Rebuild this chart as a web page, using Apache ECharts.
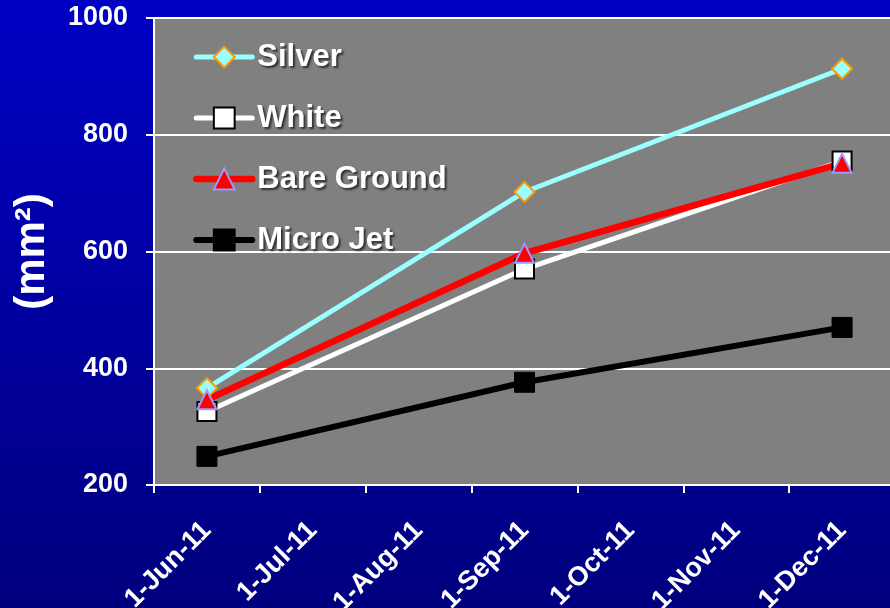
<!DOCTYPE html>
<html>
<head>
<meta charset="utf-8">
<script src="https://cdn.jsdelivr.net/npm/echarts@6/dist/echarts.min.js"></script>
<style>
  html, body { margin: 0; padding: 0; background: #000080; }
  #chart { width: 890px; height: 608px; }
</style>
</head>
<body>
<div id="chart"></div>
<script>
// Monthly axis: one category per month, measurements taken in Jun, Sep and Dec
const months = ['1-Jun-11', '1-Jul-11', '1-Aug-11', '1-Sep-11', '1-Oct-11', '1-Nov-11', '1-Dec-11'];

// Area values (mm²) per month; null where no measurement was taken
const silver     = [366, null, null, 702, null, null, 913];
const white      = [326, null, null, 570, null, null, 755];
const bareGround = [346, null, null, 597, null, null, 751];
const microJet   = [249, null, null, 376, null, null, 470];

const yTicks = { min: 200, max: 1000, step: 200 };

const fontFamily = '"Liberation Sans", Arial, sans-serif';

function lineSeries(name, data, color, width, symbol, size, fill, stroke, strokeWidth) {
  return {
    name: name,
    type: 'line',
    data: data,
    connectNulls: true,
    symbol: symbol,
    symbolSize: size,
    lineStyle: { color: color, width: width, cap: 'round' },
    itemStyle: { color: fill, borderColor: stroke, borderWidth: strokeWidth },
    emphasis: { disabled: true },
    animation: false
  };
}

const chart = echarts.init(document.getElementById('chart'));
chart.setOption({
  animation: false,
  backgroundColor: {
    type: 'linear', x: 0, y: 0, x2: 0, y2: 1,
    colorStops: [
      { offset: 0, color: '#0000C4' },
      { offset: 1, color: '#00007E' }
    ]
  },
  grid: {
    left: 154, top: 18, width: 741, height: 467,
    outerBoundsMode: 'none',
    containLabel: false,
    show: true, backgroundColor: '#808080', borderWidth: 0
  },
  legend: {
    orient: 'vertical',
    left: 193, top: 40,
    padding: 0,
    itemWidth: 56, itemHeight: 26,
    itemGap: 27,
    lineStyle: { width: 'inherit', cap: 'round' },
    textStyle: {
      color: '#ffffff', fontFamily: fontFamily, fontWeight: 'bold', fontSize: 31,
      lineHeight: 34,
      textShadowColor: 'rgba(40,40,40,0.9)', textShadowBlur: 2,
      textShadowOffsetX: 2, textShadowOffsetY: 2
    },
    data: ['Silver', 'White', 'Bare Ground', 'Micro Jet']
  },
  xAxis: {
    type: 'category',
    data: months,
    boundaryGap: true,
    axisLine: { show: true, lineStyle: { color: '#ffffff', width: 2 } },
    axisTick: { show: true, length: 8, alignWithLabel: false, interval: 0, lineStyle: { color: '#ffffff', width: 2 } },
    axisLabel: {
      interval: 0, rotate: 45, margin: 41,
      color: '#ffffff', fontFamily: fontFamily, fontWeight: 'bold', fontSize: 27
    },
    splitLine: { show: false }
  },
  yAxis: {
    type: 'value',
    min: yTicks.min, max: yTicks.max, interval: yTicks.step,
    name: '(mm²)',
    nameLocation: 'middle',
    nameGap: 101,
    nameRotate: 90,
    nameTextStyle: { color: '#ffffff', fontFamily: fontFamily, fontWeight: 'bold', fontSize: 42 },
    axisLine: { show: true, lineStyle: { color: '#ffffff', width: 2 } },
    axisTick: { show: true, length: 8, lineStyle: { color: '#ffffff', width: 2 } },
    axisLabel: {
      margin: 26,
      formatter: function (v) { return String(v); },
      color: '#ffffff', fontFamily: fontFamily, fontWeight: 'bold', fontSize: 27
    },
    splitLine: { show: true, lineStyle: { color: '#ffffff', width: 2 } }
  },
  series: [
    lineSeries('Silver', silver, '#99FFFF', 5, 'diamond', 20, '#99FFFF', '#FF9900', 2),
    lineSeries('White', white, '#FFFFFF', 5, 'rect', 19, '#FFFFFF', '#000000', 2),
    lineSeries('Bare Ground', bareGround, '#FF0000', 6.5, 'triangle', 19, '#FF0000', '#9999FF', 2),
    lineSeries('Micro Jet', microJet, '#000000', 6, 'rect', 20, '#000000', '#000000', 1)
  ]
});
</script>
</body>
</html>
